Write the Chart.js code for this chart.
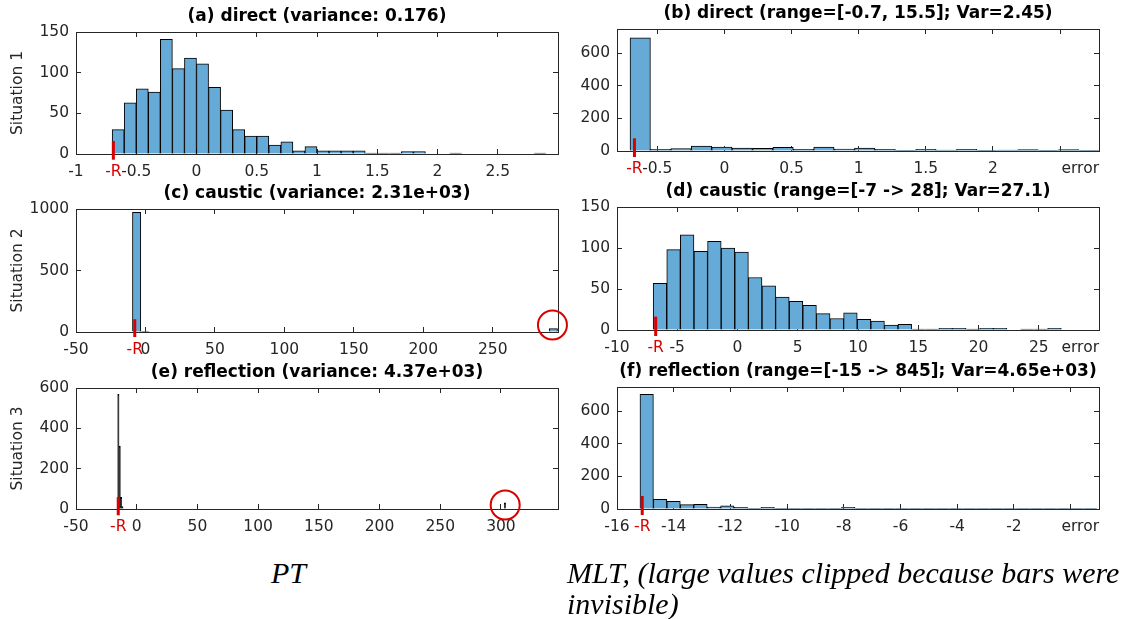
<!DOCTYPE html>
<html>
<head>
<meta charset="utf-8">
<script src="https://cdn.jsdelivr.net/npm/chart.js@4.4.0/dist/chart.umd.min.js"></script>
<style>
  body { margin: 0; background: #fff; width: 1125px; height: 619px; position: relative; overflow: hidden; }
  canvas { position: absolute; }
  .cap { position: absolute; font-family: "Liberation Serif", serif; font-style: italic; font-size: 30px; line-height: 31px; color: #000; white-space: nowrap; }
</style>
</head>
<body>
<canvas id="pa" width="590" height="187" style="left:0;top:3px"></canvas>
<canvas id="pc" width="590" height="188" style="left:0;top:180px"></canvas>
<canvas id="pe" width="590" height="186" style="left:0;top:359px"></canvas>
<canvas id="pb" width="565" height="187" style="left:560px;top:0"></canvas>
<canvas id="pd" width="565" height="188" style="left:560px;top:178px"></canvas>
<canvas id="pf" width="565" height="187" style="left:560px;top:358px"></canvas>
<div class="cap" style="left:271px;top:557px">PT</div>
<div class="cap" style="left:567px;top:557px">MLT, (large values clipped because bars were</div>
<div class="cap" style="left:567px;top:588px">invisible)</div>
<script>
// ---- data (a) PT direct: bins of 0.1 from -0.7
const aBinStart = -0.7, aBinWidth = 0.1;
const aCounts = [30, 63, 80, 76, 141, 105, 118, 111, 82, 54, 30, 22, 22, 11, 15, 4, 9, 4, 4, 4,
                 4, 1, 1, 1, 3, 3, 0, 0, 1, 0, 0, 0, 0, 0, 0, 1];
const aXTicks = [-1, -0.5, 0, 0.5, 1, 1.5, 2, 2.5];
const aYTicks = [0, 50, 100, 150];

// ---- (b) MLT direct
const bBinStart = -0.703, bBinWidth = 0.152;
const bCounts = [696, 10, 15, 30, 24, 18, 16, 22, 10, 24, 12, 18, 10, 2, 10, 6, 10, 4, 6, 8, 4, 8, 4];
const bXTicks = [-0.5, 0, 0.5, 1, 1.5, 2, 2.5];
const bYTicks = [0, 200, 400, 600];

// ---- (c) PT caustic (only non-empty bins)
const cCenters = [-6.35, -0.35, 293.65];
const cCounts = [972, 3, 27];
const cXTicks = [-50, 0, 50, 100, 150, 200, 250];
const cYTicks = [0, 500, 1000];

// ---- (d) MLT caustic
const dBinStart = -7, dBinWidth = 1.129;
const dCounts = [57, 98, 116, 96, 108, 100, 95, 64, 54, 40, 35, 30, 20, 14, 21, 13, 11, 6, 7, 1,
                 1, 2, 2, 1, 2, 2, 0, 1, 1, 2, 0];
const dXTicks = [-10, -5, 0, 5, 10, 15, 20, 25, 30];
const dYTicks = [0, 50, 100, 150];

// ---- (e) PT reflection (only non-empty bins)
const eCenters = [-15.1, -14.0, -12.9, -11.8, 303.3];
const eCounts = [568, 312, 58, 12, 30];
const eXTicks = [-50, 0, 50, 100, 150, 200, 250, 300];
const eYTicks = [0, 200, 400, 600];

// ---- (f) MLT reflection
const fBinStart = -15.19, fBinWidth = 0.474;
const fCounts = [705, 60, 47, 27, 29, 12, 19, 10, 4, 10, 4, 4, 2, 4, 2, 10, 2, 2, 2, 1,
                 1, 2, 1, 1, 1, 2, 1, 1, 1, 1, 1, 1, 1, 2];
const fXTicks = [-16, -14, -12, -10, -8, -6, -4, -2, 0];
const fYTicks = [0, 200, 400, 600];

const blue = "rgb(102,170,215)";
const axisGray = "#262626";
const red = "#d90000";
const clear = "rgba(0,0,0,0)";
Chart.defaults.font.family = "DejaVu Sans";
const tickFont = { family: "DejaVu Sans", size: 15.5 };
const titleFont = { family: "DejaVu Sans", size: 17, weight: "bold" };

function binCenters(start, width, n) {
  return Array.from({ length: n }, (_, i) => start + (i + 0.5) * width);
}

function panel(id, p) {
  const left = p.side === "left";
  const yW = left ? 76 : 57;
  const y2W = left ? 32 : 26;
  const xTicksAll = p.xTicks.concat([p.rVal]).sort((u, v) => u - v);

  const datasets = [
    {
      type: "bar",
      data: p.centers.map((x, i) => ({ x: x, y: p.counts[i] })),
      backgroundColor: p.fill || blue,
      borderColor: "#000",
      borderWidth: 1,
      barPercentage: 1,
      categoryPercentage: 1,
      xAxisID: "x", yAxisID: "y",
      order: 2
    },
    {
      type: "line",
      data: [{ x: p.rVal, y: p.rLine[0] }, { x: p.rVal, y: p.rLine[1] }],
      borderColor: red, borderWidth: 3, pointRadius: 0, clip: false,
      xAxisID: "x", yAxisID: "y",
      order: 1
    }
  ];
  if (p.circle) {
    datasets.push({
      type: "scatter",
      data: [p.circle],
      pointRadius: 14.5, pointStyle: "circle",
      borderColor: red, borderWidth: 2, backgroundColor: clear,
      clip: false, xAxisID: "x", yAxisID: "y", order: 0
    });
  }

  const gridOpts = { drawOnChartArea: false, offset: false, tickLength: -5, color: axisGray, lineWidth: 1 };
  const border = { display: true, color: axisGray, width: 1 };

  new Chart(document.getElementById(id), {
    type: "bar",
    data: { datasets: datasets },
    options: {
      responsive: false,
      animation: false,
      layout: { padding: 0 },
      plugins: { legend: { display: false }, tooltip: { enabled: false }, title: { display: false } },
      scales: {
        x: {
          type: "linear", position: "bottom", min: p.xMin, max: p.xMax, offset: false,
          grid: Object.assign({}, gridOpts, {
            color: (c) => (c.tick && c.tick.value === p.rVal ? clear : axisGray)
          }),
          border: border,
          ticks: {
            autoSkip: false, maxRotation: 0, padding: 13.4, font: tickFont,
            color: (c) => (c.tick && c.tick.value === p.rVal ? red : axisGray),
            callback: (v) => (v === p.rVal ? "-R" : (v === p.errorAt ? "" : String(v)))
          },
          title: {
            display: p.errorAt !== undefined, text: "error", align: "end",
            font: tickFont, color: axisGray, padding: { top: 0, bottom: 9 }
          },
          afterBuildTicks: (s) => { s.ticks = xTicksAll.map((v) => ({ value: v })); },
          afterFit: (s) => { s.height = 36; }
        },
        x2: {
          type: "linear", position: "top", min: p.xMin, max: p.xMax, offset: false,
          grid: gridOpts, border: border,
          ticks: { display: false },
          title: { display: true, text: p.title, font: titleFont, color: "#000", padding: { top: 3.8, bottom: 0 } },
          afterBuildTicks: (s) => { s.ticks = p.xTicks.map((v) => ({ value: v })); },
          afterFit: (s) => { s.height = 29; }
        },
        y: {
          type: "linear", position: "left", min: 0, max: p.yMax,
          grid: gridOpts, border: border,
          ticks: { padding: 12, font: tickFont, color: axisGray, callback: (v) => String(v) },
          title: {
            display: !!p.ylabel, text: p.ylabel || "", font: tickFont, color: axisGray,
            padding: { top: 8.2, bottom: 0 }
          },
          afterBuildTicks: (s) => { s.ticks = p.yTicks.map((v) => ({ value: v })); },
          afterFit: (s) => { s.width = yW; }
        },
        y2: {
          type: "linear", position: "right", min: 0, max: p.yMax,
          grid: gridOpts, border: border,
          ticks: { display: false },
          afterBuildTicks: (s) => { s.ticks = p.yTicks.map((v) => ({ value: v })); },
          afterFit: (s) => { s.width = y2W; }
        }
      }
    }
  });
}

panel("pa", {
  side: "left", title: "(a) direct (variance: 0.176)", ylabel: "Situation 1",
  centers: binCenters(aBinStart, aBinWidth, aCounts.length), counts: aCounts,
  xMin: -1, xMax: 3, yMax: 150, xTicks: aXTicks, yTicks: aYTicks,
  rVal: -0.69, rLine: [-7, 16]
});
panel("pb", {
  side: "right", title: "(b) direct (range=[-0.7, 15.5]; Var=2.45)",
  centers: binCenters(bBinStart, bBinWidth, bCounts.length), counts: bCounts,
  xMin: -0.8, xMax: 2.79, yMax: 750, xTicks: bXTicks, yTicks: bYTicks,
  rVal: -0.67, rLine: [-37, 78], errorAt: 2.5
});
panel("pc", {
  side: "left", title: "(c) caustic (variance: 2.31e+03)", ylabel: "Situation 2",
  centers: cCenters, counts: cCounts,
  xMin: -50, xMax: 297, yMax: 1000, xTicks: cXTicks, yTicks: cYTicks,
  rVal: -7.7, rLine: [-41, 104], circle: { x: 293, y: 57 }
});
panel("pd", {
  side: "right", title: "(d) caustic (range=[-7 -> 28]; Var=27.1)",
  centers: binCenters(dBinStart, dBinWidth, dCounts.length), counts: dCounts,
  xMin: -10, xMax: 30, yMax: 150, xTicks: dXTicks, yTicks: dYTicks,
  rVal: -6.79, rLine: [-7.3, 16.3], errorAt: 30
});
panel("pe", {
  side: "left", title: "(e) reflection (variance: 4.37e+03)", ylabel: "Situation 3",
  centers: eCenters, counts: eCounts, fill: "#000",
  xMin: -50, xMax: 347, yMax: 600, xTicks: eXTicks, yTicks: eYTicks,
  rVal: -15.2, rLine: [-31, 59], circle: { x: 303.5, y: 20 }
});
panel("pf", {
  side: "right", title: "(f) reflection (range=[-15 -> 845]; Var=4.65e+03)",
  centers: binCenters(fBinStart, fBinWidth, fCounts.length), counts: fCounts,
  xMin: -16, xMax: 1, yMax: 750, xTicks: fXTicks, yTicks: fYTicks,
  rVal: -15.11, rLine: [-37, 80], errorAt: 0
});
</script>
</body>
</html>
